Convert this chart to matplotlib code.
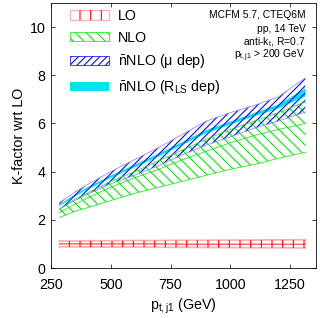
import matplotlib
matplotlib.use("Agg")
import matplotlib.pyplot as plt
from matplotlib.patches import Patch

plt.rcParams['font.family'] = ['Liberation Sans', 'DejaVu Sans']
plt.rcParams['mathtext.fontset'] = 'custom'
plt.rcParams['mathtext.rm'] = 'Liberation Sans'
plt.rcParams['mathtext.it'] = 'Liberation Sans'
plt.rcParams['hatch.linewidth'] = 1.2

# p_t bins (GeV)
pt = [285, 350, 400, 500, 600, 700, 800, 900, 1000, 1100, 1200, 1313]

# LO band
lo_c = [1.0, 1.0, 1.0, 1.0, 1.0, 1.0, 0.99, 0.99, 0.99, 0.99, 0.99, 0.99]
lo_lo = [0.88, 0.88, 0.87, 0.87, 0.87, 0.86, 0.86, 0.85, 0.85, 0.84, 0.84, 0.83]
lo_hi = [1.12, 1.12, 1.13, 1.13, 1.14, 1.14, 1.15, 1.15, 1.16, 1.16, 1.17, 1.17]

# NLO band
nlo_lo = [2.1, 2.35, 2.5, 2.8, 3.1, 3.35, 3.6, 3.85, 4.1, 4.3, 4.55, 4.8]
nlo_c = [2.3, 2.65, 2.9, 3.35, 3.75, 4.1, 4.5, 4.85, 5.2, 5.5, 5.75, 6.0]
nlo_hi = [2.45, 2.85, 3.1, 3.6, 4.0, 4.45, 4.9, 5.35, 5.75, 6.1, 6.45, 6.9]

# nNLO, scale dependence
mu_lo = [2.44, 2.8, 3.05, 3.5, 3.85, 4.25, 4.7, 5.1, 5.45, 5.8, 6.1, 6.47]
mu_hi = [2.71, 3.15, 3.45, 4.0, 4.5, 5.0, 5.55, 6.1, 6.45, 6.75, 7.1, 7.89]

# nNLO, R_LS dependence
rls_lo = [2.57, 2.97, 3.25, 3.74, 4.18, 4.63, 5.12, 5.6, 5.95, 6.3, 6.62, 7.12]
rls_hi = [2.64, 3.05, 3.34, 3.84, 4.29, 4.75, 5.24, 5.73, 6.08, 6.44, 6.78, 7.45]

red = '#ff0000'
pink = '#ffb0b0'
green = '#00ee00'
blue = '#0000ff'
lblue = '#8080ff'
cyan = '#00e5ee'

fig = plt.figure(figsize=(320 / 64, 318 / 64), dpi=64)
ax = fig.add_axes([51 / 320, 50 / 318, 265 / 320, 265 / 318])

# LO
ax.plot(pt, lo_lo, color=pink, lw=2)
ax.plot(pt, lo_hi, color=pink, lw=2)
ax.plot(pt, lo_c, color=red, lw=1)
ax.fill_between(pt, lo_lo, lo_hi, facecolor='none', edgecolor=red, hatch='|',
                linewidth=0, zorder=3)

# NLO
ax.fill_between(pt, nlo_lo, nlo_hi, facecolor='none', edgecolor=green, hatch='\\\\', linewidth=0)
for yy in (nlo_lo, nlo_c, nlo_hi):
    ax.plot(pt, yy, color=green, lw=0.8)

# nNLO R_LS
ax.fill_between(pt, rls_lo, rls_hi, facecolor=cyan, edgecolor='none', linewidth=0)

# nNLO mu
ax.fill_between(pt, mu_lo, mu_hi, facecolor='none', edgecolor=blue, hatch='///', linewidth=0)
ax.plot(pt, mu_lo, color=lblue, lw=0.8)
ax.plot(pt, mu_hi, color=lblue, lw=0.8)

ax.set_xlim(250, 1358)
ax.set_ylim(0, 11)
ax.set_xticks([250, 500, 750, 1000, 1250])
ax.set_yticks([0, 2, 4, 6, 8, 10])
ax.tick_params(direction='in', top=True, right=True, length=5, width=0.8,
               labelsize=16)
ax.tick_params(axis='x', pad=11)
ax.tick_params(axis='y', pad=6)
for s in ax.spines.values():
    s.set_linewidth(0.9)

ax.set_xlabel(r'$\mathregular{p_{t,j1}}$ (GeV)', fontsize=16, labelpad=5)
ax.set_ylabel('K-factor wrt LO', fontsize=16, labelpad=4)

handles = [
    (Patch(facecolor='none', edgecolor=pink, linewidth=1.5),
     Patch(facecolor='none', edgecolor=red, hatch='|', linewidth=0)),
    Patch(facecolor='none', edgecolor=green, hatch='\\\\', linewidth=0.8),
    Patch(facecolor='none', edgecolor=blue, hatch='///', linewidth=0.8),
    Patch(facecolor=cyan, edgecolor='none'),
]
labels = ['LO', 'NLO', r'$\mathregular{\bar{n}}$NLO (μ dep)',
          r'$\mathregular{\bar{n}}$NLO ($\mathregular{R_{LS}}$ dep)']
ax.legend(handles, labels, loc='upper left', bbox_to_anchor=(0.07, 0.978),
          frameon=False, fontsize=16, handlelength=2.8, handleheight=0.65,
          handletextpad=0.6, labelspacing=0.55, borderpad=0, borderaxespad=0)

info = ['MCFM 5.7, CTEQ6M', 'pp, 14 TeV', r'anti-$\mathregular{k_t}$, R=0.7',
        r'$\mathregular{p_{t,j1}}$ > 200 GeV']
for i, t in enumerate(info):
    ax.text(0.96, 0.953 - i * 0.051, t, transform=ax.transAxes, ha='right',
            va='center', fontsize=11.5)

fig.savefig('out.png', dpi=64)
